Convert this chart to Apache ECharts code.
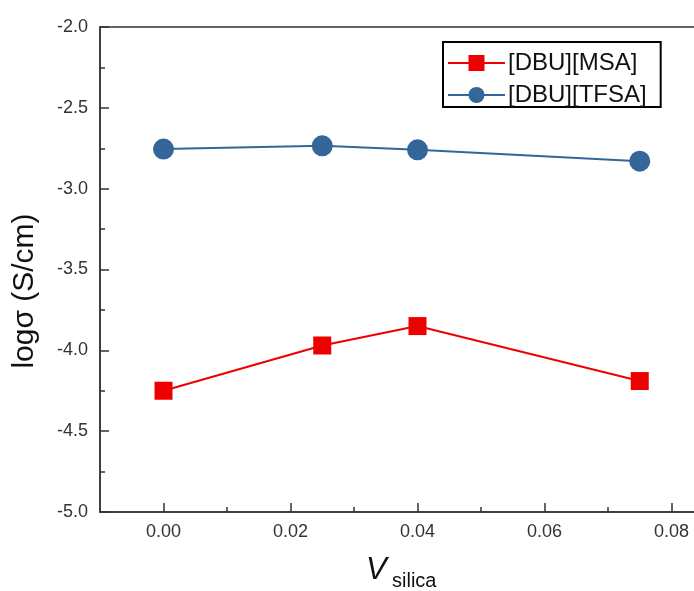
<!DOCTYPE html>
<html>
<head>
<meta charset="utf-8">
<script src="https://cdn.jsdelivr.net/npm/echarts@6/dist/echarts.min.js"></script>
<style>
  html, body { margin: 0; padding: 0; background: #fff; }
  #chart { width: 694px; height: 591px; }
</style>
</head>
<body>
<div id="chart"></div>
<script>
// Silica volume fraction and ionic conductivity (log scale) for two ionic liquids
const vSilica = [0, 0.025, 0.04, 0.075];
const msaLogSigma = [-4.25, -3.97, -3.85, -4.19];
const tfsaLogSigma = [-2.755, -2.735, -2.76, -2.83];
const xMajorTicks = [0, 0.02, 0.04, 0.06, 0.08];
const xMinorTicks = [0.01, 0.03, 0.05, 0.07];
const seriesNames = ['[DBU][MSA]', '[DBU][TFSA]'];
const yTitle = 'logσ (S/cm)';
const xTitleMain = 'V';
const xTitleSub = 'silica';

const chart = echarts.init(document.getElementById('chart'), null, { renderer: 'canvas' });

const axisColor = '#333';
const font = 'Liberation Sans, Arial, sans-serif';
const labelStyle = { color: '#333', fontSize: 18, fontFamily: font };

const option = {
  backgroundColor: '#fff',
  animation: false,
  grid: {
    left: 100, top: 27, width: 635, height: 485,
    outerBoundsMode: 'none', containLabel: false,
    show: true, borderColor: axisColor, borderWidth: 1.5, backgroundColor: 'transparent'
  },
  legend: {
    left: 443, top: 42,
    orient: 'vertical',
    data: seriesNames,
    itemWidth: 57, itemHeight: 20, itemGap: 8,
    padding: [9, 14, 0, 4],
    borderColor: '#000', borderWidth: 2,
    textStyle: { color: '#111', fontSize: 24, fontFamily: font, padding: [0, 0, 0, -2] }
  },
  // axis titles drawn as free text so they sit under the visible part of the plot
  graphic: [
    {
      type: 'text', x: 25, y: 291, rotation: Math.PI / 2,
      style: { text: yTitle, fill: '#111', font: '30px ' + font, align: 'center', verticalAlign: 'middle' }
    },
    {
      type: 'text', x: 366, y: 570,
      style: { text: xTitleMain, fill: '#111', font: 'italic 31px ' + font, align: 'left', verticalAlign: 'middle' }
    },
    {
      type: 'text', x: 392, y: 581,
      style: { text: xTitleSub, fill: '#111', font: '20px ' + font, align: 'left', verticalAlign: 'middle' }
    }
  ],
  xAxis: [
    {
      type: 'value', min: -0.01, max: 0.09, position: 'bottom',
      axisLine: { show: true, onZero: false, lineStyle: { color: axisColor, width: 1.5 } },
      axisTick: { show: true, inside: true, length: 9, customValues: xMajorTicks, lineStyle: { color: axisColor, width: 1.5 } },
      axisLabel: { show: true, customValues: xMajorTicks, margin: 11, ...labelStyle, formatter: v => v.toFixed(2) },
      splitLine: { show: false }
    },
    {
      type: 'value', min: -0.01, max: 0.09, position: 'bottom', gridIndex: 0,
      axisLine: { show: false, onZero: false },
      axisTick: { show: true, inside: true, length: 5, customValues: xMinorTicks, lineStyle: { color: axisColor, width: 1.5 } },
      axisLabel: { show: false },
      splitLine: { show: false }
    }
  ],
  yAxis: {
    type: 'value', min: -5, max: -2, interval: 0.5,
    axisLine: { show: true, onZero: false, lineStyle: { color: axisColor, width: 1.5 } },
    axisTick: { show: true, inside: true, length: 9, lineStyle: { color: axisColor, width: 1.5 } },
    minorTick: { show: true, splitNumber: 2, length: 5, lineStyle: { color: axisColor, width: 1.5 } },
    axisLabel: { ...labelStyle, margin: 12, formatter: v => v.toFixed(1) },
    splitLine: { show: false }
  },
  series: [
    {
      name: seriesNames[0], type: 'line', xAxisIndex: 0,
      data: vSilica.map((x, i) => [x, msaLogSigma[i]]),
      symbol: 'rect', symbolSize: 18,
      lineStyle: { color: '#ee0000', width: 2 },
      itemStyle: { color: '#ee0000' }
    },
    {
      name: seriesNames[1], type: 'line', xAxisIndex: 0,
      data: vSilica.map((x, i) => [x, tfsaLogSigma[i]]),
      symbol: 'circle', symbolSize: 21,
      lineStyle: { color: '#336699', width: 2 },
      itemStyle: { color: '#336699' }
    }
  ]
};

chart.setOption(option);
</script>
</body>
</html>
